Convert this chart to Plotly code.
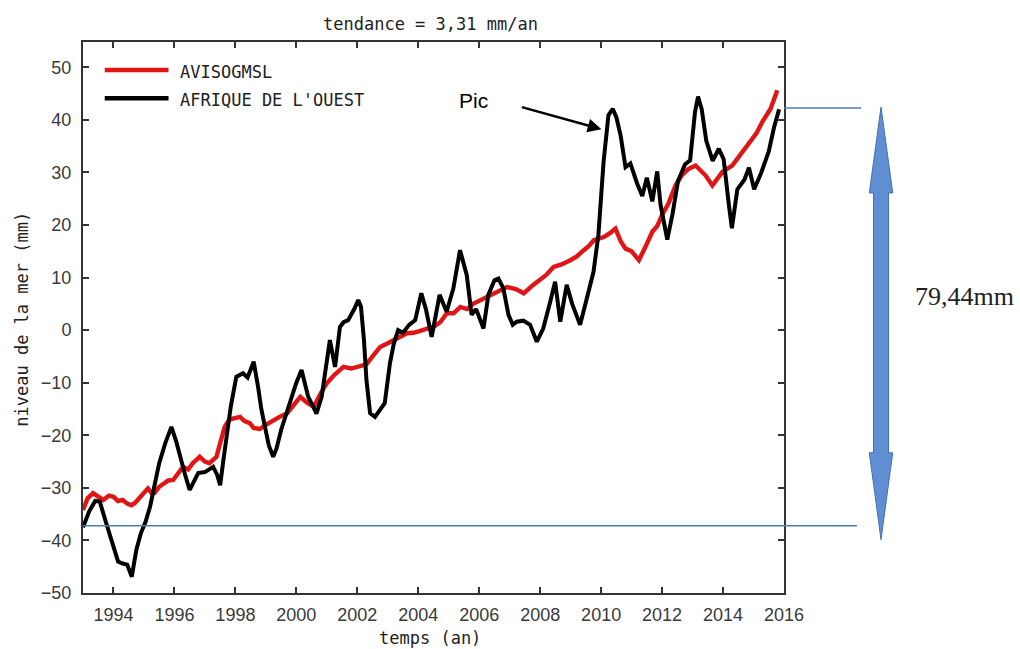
import plotly.graph_objects as go

# --- Séries (mm) ---------------------------------------------------------
annees_avis = [
    1993.00, 1993.15, 1993.33, 1993.50, 1993.66, 1993.85, 1994.00, 1994.15, 1994.30, 1994.45,
    1994.59, 1994.72, 1994.85, 1995.00, 1995.13, 1995.25, 1995.35, 1995.50, 1995.63, 1995.80,
    1995.96, 1996.10, 1996.28, 1996.45, 1996.60, 1996.83, 1997.00, 1997.15, 1997.38, 1997.50,
    1997.65, 1997.80, 1998.00, 1998.15, 1998.30, 1998.47, 1998.60, 1998.80, 1999.00, 1999.25,
    1999.45, 1999.70, 1999.90, 2000.13, 2000.35, 2000.57, 2000.80, 2001.00, 2001.25, 2001.55,
    2001.80, 2002.00, 2002.30, 2002.50, 2002.75, 2003.00, 2003.20, 2003.40, 2003.63, 2003.85,
    2004.07, 2004.30, 2004.50, 2004.72, 2004.94, 2005.16, 2005.38, 2005.60, 2005.80, 2006.04,
    2006.25, 2006.47, 2006.70, 2006.91, 2007.20, 2007.46, 2007.75, 2008.00, 2008.20, 2008.44,
    2008.70, 2008.99, 2009.20, 2009.43, 2009.60, 2009.76, 2010.09, 2010.30, 2010.47, 2010.65,
    2010.80, 2011.00, 2011.24, 2011.45, 2011.68, 2011.84, 2012.00, 2012.20, 2012.44, 2012.65,
    2012.88, 2013.10, 2013.25, 2013.43, 2013.65, 2013.80, 2013.98, 2014.30, 2014.63, 2014.96,
    2015.10, 2015.29, 2015.56, 2015.78,
]
niveau_avis = [
    -34.2, -32.0, -31.0, -31.8, -32.3, -31.5, -31.7, -32.5, -32.3, -33.0,
    -33.3, -32.8, -32.0, -30.8, -30.1, -31.0, -31.0, -29.8, -29.2, -28.6,
    -28.5, -27.5, -26.0, -26.5, -25.3, -24.1, -25.0, -25.3, -24.1, -21.5,
    -18.4, -17.0, -16.8, -16.5, -17.3, -17.7, -18.6, -18.8, -18.0, -17.1,
    -16.5, -15.8, -14.2, -12.7, -13.8, -14.6, -12.0, -10.1, -8.5, -7.0,
    -7.3, -7.0, -6.5, -5.0, -3.2, -2.5, -1.9, -1.3, -0.6, -0.5,
    0.0, 0.3, 0.6, 1.5, 3.2, 3.2, 4.4, 4.0, 5.0, 5.7,
    6.2, 7.0, 7.5, 8.2, 7.8, 7.0, 8.5, 9.5, 10.5, 12.0,
    12.5, 13.3, 14.0, 15.2, 16.0, 17.1, 17.7, 18.5, 19.3, 16.8,
    15.5, 15.0, 13.3, 15.8, 18.7, 19.8, 21.9, 24.0, 27.5, 29.5,
    30.7, 31.3, 30.5, 29.4, 27.5, 28.8, 30.1, 31.3, 33.9, 36.4,
    37.5, 39.6, 42.1, 45.6,
]

annees_ao = [
    1993.00, 1993.20, 1993.40, 1993.55, 1993.75, 1994.00, 1994.15, 1994.30, 1994.45, 1994.60,
    1994.75, 1994.90, 1995.05, 1995.20, 1995.35, 1995.50, 1995.70, 1995.90, 1996.05, 1996.18,
    1996.35, 1996.50, 1996.65, 1996.78, 1997.00, 1997.27, 1997.40, 1997.50, 1997.60, 1997.70,
    1997.85, 1998.03, 1998.25, 1998.40, 1998.60, 1998.75, 1998.85, 1998.97, 1999.10, 1999.24,
    1999.35, 1999.50, 1999.70, 1999.84, 2000.00, 2000.17, 2000.30, 2000.39, 2000.55, 2000.66,
    2000.83, 2001.00, 2001.10, 2001.27, 2001.43, 2001.55, 2001.70, 2001.90, 2002.03, 2002.12,
    2002.22, 2002.30, 2002.42, 2002.58, 2002.75, 2002.90, 2003.07, 2003.20, 2003.34, 2003.50,
    2003.70, 2003.90, 2004.10, 2004.25, 2004.44, 2004.55, 2004.70, 2004.93, 2005.15, 2005.37,
    2005.59, 2005.75, 2005.90, 2006.14, 2006.30, 2006.50, 2006.63, 2006.79, 2006.96, 2007.10,
    2007.23, 2007.45, 2007.67, 2007.89, 2008.10, 2008.33, 2008.49, 2008.66, 2008.87, 2009.05,
    2009.31, 2009.53, 2009.75, 2009.91, 2010.08, 2010.24, 2010.38, 2010.50, 2010.64, 2010.80,
    2010.96, 2011.18, 2011.35, 2011.50, 2011.68, 2011.84, 2011.95, 2012.17, 2012.34, 2012.52,
    2012.75, 2012.92, 2013.08, 2013.18, 2013.30, 2013.45, 2013.66, 2013.86, 2014.02, 2014.19,
    2014.29, 2014.47, 2014.70, 2014.85, 2015.02, 2015.25, 2015.50, 2015.67, 2015.84,
]
niveau_ao = [
    -37.5, -34.5, -32.5, -32.6, -36.5, -41.5, -44.0, -44.4, -44.6, -46.9,
    -41.8, -38.6, -36.5, -33.6, -29.5, -25.3, -21.5, -18.4, -21.0, -24.1,
    -27.5, -30.4, -28.5, -27.2, -27.0, -26.0, -27.5, -29.5, -25.0, -20.9,
    -14.5, -8.9, -8.2, -9.0, -6.0, -11.0, -15.0, -18.4, -22.0, -24.1,
    -22.5, -19.0, -15.5, -12.7, -10.0, -7.6, -10.5, -12.7, -14.5, -15.9,
    -12.7, -6.0, -1.9, -7.0, 0.6, 1.5, 1.9, 4.0, 5.7, 4.5,
    -2.0, -9.5, -15.8, -16.5, -15.0, -13.9, -6.3, -2.5, 0.0, -0.5,
    1.0, 1.9, 7.0, 4.0, -1.3, 2.5, 6.7, 3.5, 7.9, 15.2,
    10.5, 2.9, 4.0, 0.3, 6.7, 9.5, 9.8, 8.0, 2.9, 1.0,
    1.6, 1.8, 1.0, -2.2, 0.3, 5.4, 9.2, 1.6, 8.6, 5.0,
    1.0, 6.0, 11.1, 18.1, 32.0, 40.9, 42.1, 40.5, 37.0, 31.0,
    31.7, 27.9, 25.5, 29.0, 24.5, 30.2, 23.8, 17.2, 22.0, 28.3,
    31.5, 32.3, 41.5, 44.4, 42.0, 36.0, 32.2, 34.5, 32.5, 23.9,
    19.4, 26.8, 28.6, 30.9, 26.8, 29.9, 34.0, 38.5, 42.0,
]

# Écart entre le minimum de 1993 et le pic final (mm)
niveau_bas = -37.2
ecart = 79.44
niveau_haut = niveau_bas + ecart

annees_ticks = list(range(1994, 2017, 2))
niveaux_ticks = list(range(-50, 51, 10))

MONO = "DejaVu Sans Mono"
SANS = "Liberation Sans"
BLEU = "#4a7ebb"

fig = go.Figure()
fig.add_trace(go.Scatter(
    x=annees_avis, y=niveau_avis, mode="lines", name="AVISOGMSL",
    line=dict(color="#e01515", width=4.4), showlegend=False,
))
fig.add_trace(go.Scatter(
    x=annees_ao, y=niveau_ao, mode="lines", name="AFRIQUE DE L'OUEST",
    line=dict(color="#000000", width=4.0), showlegend=False,
))

shapes = []
annotations = []

# Légende dessinée à la main (traits longs, police à chasse fixe)
for i, (nom, couleur) in enumerate([("AVISOGMSL", "#e01515"), ("AFRIQUE DE L'OUEST", "#000000")]):
    yy = 0.949 - i * 0.051
    shapes.append(dict(type="line", xref="paper", yref="paper", x0=0.031, x1=0.122,
                       y0=yy, y1=yy, line=dict(color=couleur, width=4.5)))
    annotations.append(dict(xref="paper", yref="paper", x=0.1355, y=yy - 0.004, text=nom,
                            showarrow=False, xanchor="left", yanchor="middle",
                            font=dict(family=MONO, size=17, color="#222")))

# Lignes repères du minimum et du maximum
shapes.append(dict(type="line", xref="paper", yref="y", x0=1.0, x1=1.110,
                   y0=niveau_haut, y1=niveau_haut, line=dict(color=BLEU, width=1.5), layer="above"))
shapes.append(dict(type="line", xref="paper", yref="y", x0=0.0, x1=1.104,
                   y0=niveau_bas, y1=niveau_bas, line=dict(color=BLEU, width=1.5), layer="above"))

# Double flèche verticale
xc, hw, sw = 1.1384, 0.0167, 0.0107
yt, yhb, ylb, yb = 0.882, 0.726, 0.2545, 0.0967
path = (f"M {xc} {yt} L {xc + hw} {yhb} L {xc + sw} {yhb} L {xc + sw} {ylb} "
        f"L {xc + hw} {ylb} L {xc} {yb} L {xc - hw} {ylb} L {xc - sw} {ylb} "
        f"L {xc - sw} {yhb} L {xc - hw} {yhb} Z")
shapes.append(dict(type="path", xref="paper", yref="paper", path=path,
                   fillcolor="#5f8fd2", line=dict(color="#4472a8", width=1)))

annotations.append(dict(xref="paper", yref="paper", x=1.257, y=0.539,
                        text=f"{ecart:.2f}".replace(".", ",") + "mm", showarrow=False,
                        xanchor="center", yanchor="middle",
                        font=dict(family="Liberation Serif", size=26, color="#222")))

# Annotation du pic
annotations.append(dict(x=2010.01, y=38.2, ax=2007.35, ay=42.5, axref="x", ayref="y",
                        xref="x", yref="y", text="", showarrow=True, arrowhead=2,
                        arrowsize=1.1, arrowwidth=2.5, arrowcolor="#000"))
annotations.append(dict(x=2005.8, y=43.7, xref="x", yref="y", text="Pic", showarrow=False,
                        xanchor="center", yanchor="middle",
                        font=dict(family=SANS, size=21, color="#000")))

# Titres
annotations.append(dict(xref="paper", yref="paper", x=0.496, y=1.032, text="tendance = 3,31 mm/an",
                        showarrow=False, xanchor="center", yanchor="middle",
                        font=dict(family=MONO, size=17, color="#222")))
annotations.append(dict(xref="paper", yref="paper", x=0.495, y=-0.081, text="temps (an)",
                        showarrow=False, xanchor="center", yanchor="middle",
                        font=dict(family=MONO, size=17, color="#222")))
annotations.append(dict(xref="paper", yref="paper", x=-0.087, y=0.496, text="niveau de la mer (mm)",
                        showarrow=False, textangle=-90, xanchor="center", yanchor="middle",
                        font=dict(family=MONO, size=17, color="#222")))

axe = dict(showline=True, linecolor="#333", linewidth=2, mirror="ticks", ticks="inside",
           ticklen=6, tickwidth=1.5, tickcolor="#333", showgrid=False, zeroline=False,
           tickfont=dict(family=SANS, size=18, color="#3a3a3a"))

fig.update_layout(
    width=1020, height=649,
    margin=dict(l=83, r=236, t=42, b=56),
    paper_bgcolor="white", plot_bgcolor="white",
    xaxis=dict(range=[1993, 2016], tickvals=annees_ticks, ticklabelstandoff=4, **axe),
    yaxis=dict(range=[-50, 54.8], tickvals=niveaux_ticks, ticklabelstandoff=6, **axe),
    shapes=shapes, annotations=annotations,
)

fig.write_html("out.html")
